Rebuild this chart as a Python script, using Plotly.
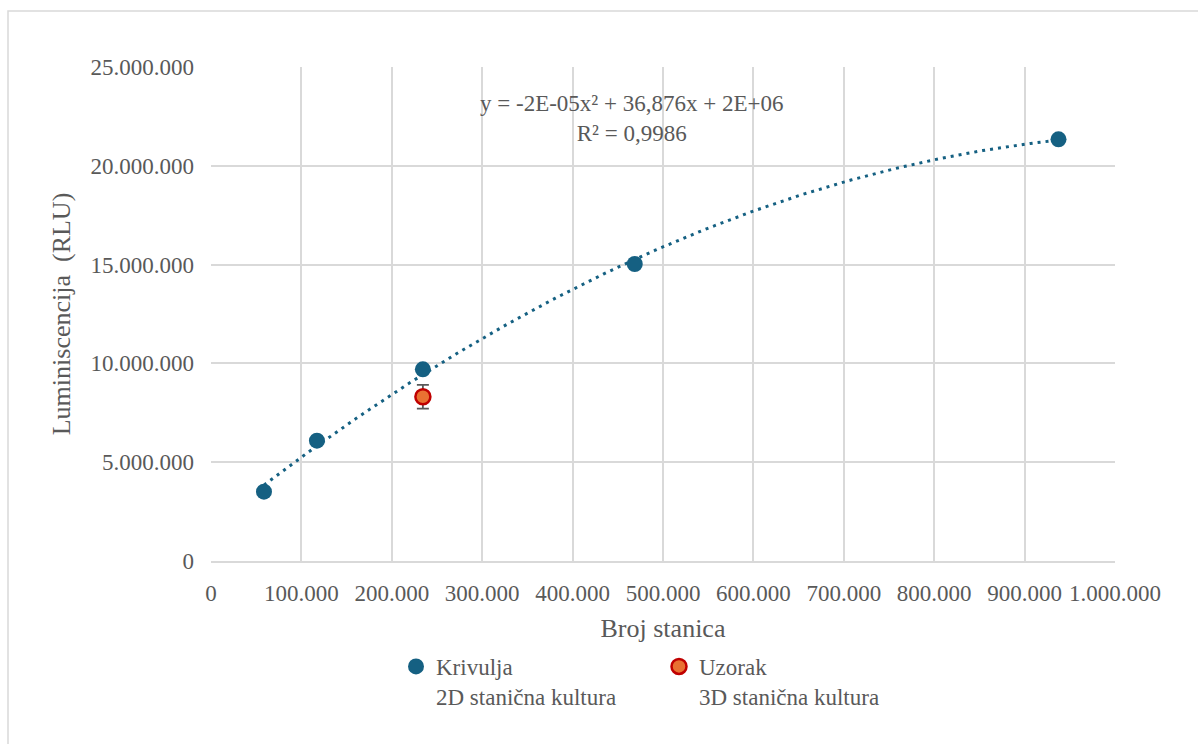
import numpy as np
import plotly.graph_objects as go

# ---- data ----
curve_x = [58594, 117188, 234375, 468750, 937500]
curve_y = [3510000, 6090000, 9700000, 15030000, 21340000]
sample_x = [234375]
sample_y = [8310000]
sample_err = [600000]

curve_name = "Krivulja<br>2D stanična kultura"
sample_name = "Uzorak<br>3D stanična kultura"
equation_text = "y = -2E-05x² + 36,876x + 2E+06<br>R² = 0,9986"
x_title = "Broj stanica"
y_title = "Luminiscencija  (RLU)"

# ---- trendline (2nd order polynomial fit of the curve points) ----
coef = np.polyfit(curve_x, curve_y, 2)
tx = np.linspace(min(curve_x), max(curve_x), 200)
ty = np.polyval(coef, tx)

FONT = "Liberation Serif"
TXT = "#595959"
GRID = "#d9d9d9"
BLUE = "#156082"

W, H = 1198, 744
ML, MR, MT, MB = 211, 83, 67, 183
PW, PH = W - ML - MR, H - MT - MB

fig = go.Figure()
fig.add_trace(go.Scatter(
    x=tx, y=ty, mode="lines", showlegend=False, hoverinfo="skip",
    line=dict(color=BLUE, width=3, dash="3px,5px")))
fig.add_trace(go.Scatter(
    x=curve_x, y=curve_y, mode="markers", name=curve_name,
    marker=dict(color=BLUE, size=16, line=dict(width=0))))
fig.add_trace(go.Scatter(
    x=sample_x, y=sample_y, mode="markers", name=sample_name,
    marker=dict(color="#E97132", size=15, line=dict(color="#C00000", width=2.5)),
    error_y=dict(type="data", array=sample_err, visible=True,
                 color="#595959", thickness=1.8, width=6)))

fig.add_annotation(x=464600, y=22370000, xref="x", yref="y",
                   text=equation_text, showarrow=False, align="center",
                   font=dict(family=FONT, size=23, color=TXT))

# outer chart frame (cropped on right/bottom)
def px_x(p):
    return (p - ML) / PW
def px_y(p):
    return (H - MB - p) / PH

fig.add_shape(type="rect", xref="paper", yref="paper",
              x0=px_x(8), x1=px_x(1210), y0=px_y(760), y1=px_y(11),
              line=dict(color=GRID, width=1.5), layer="below")

fig.update_layout(
    width=W, height=H,
    margin=dict(l=ML, r=MR, t=MT, b=MB),
    paper_bgcolor="white", plot_bgcolor="white",
    separators=",.",
    font=dict(family=FONT, size=23, color=TXT),
    showlegend=True,
    legend=dict(orientation="h", x=px_x(396), y=px_y(645),
                xanchor="left", yanchor="top", valign="top",
                entrywidth=218, entrywidthmode="pixels",
                font=dict(family=FONT, size=23, color=TXT),
                itemwidth=30, tracegroupgap=0),
)
fig.update_xaxes(range=[0, 1000000], dtick=100000, tick0=0,
                 tickformat=",d", tickangle=0,
                 showgrid=True, gridcolor=GRID, gridwidth=1.5,
                 showline=True, linecolor=GRID, linewidth=2,
                 zeroline=False, ticks="", ticklabelstandoff=10,
                 tickfont=dict(family=FONT, size=23, color=TXT),
                 title=dict(text=x_title, standoff=14,
                            font=dict(family=FONT, size=26, color=TXT)))
fig.update_yaxes(range=[0, 25000000], dtick=5000000, tick0=0,
                 tickformat=",d",
                 showgrid=True, gridcolor=GRID, gridwidth=1.5,
                 showline=False, zeroline=False, ticks="",
                 ticklabelstandoff=16,
                 tickfont=dict(family=FONT, size=23, color=TXT),
                 title=dict(text=y_title, standoff=12,
                            font=dict(family=FONT, size=26, color=TXT)))

fig.write_html("out.html")
